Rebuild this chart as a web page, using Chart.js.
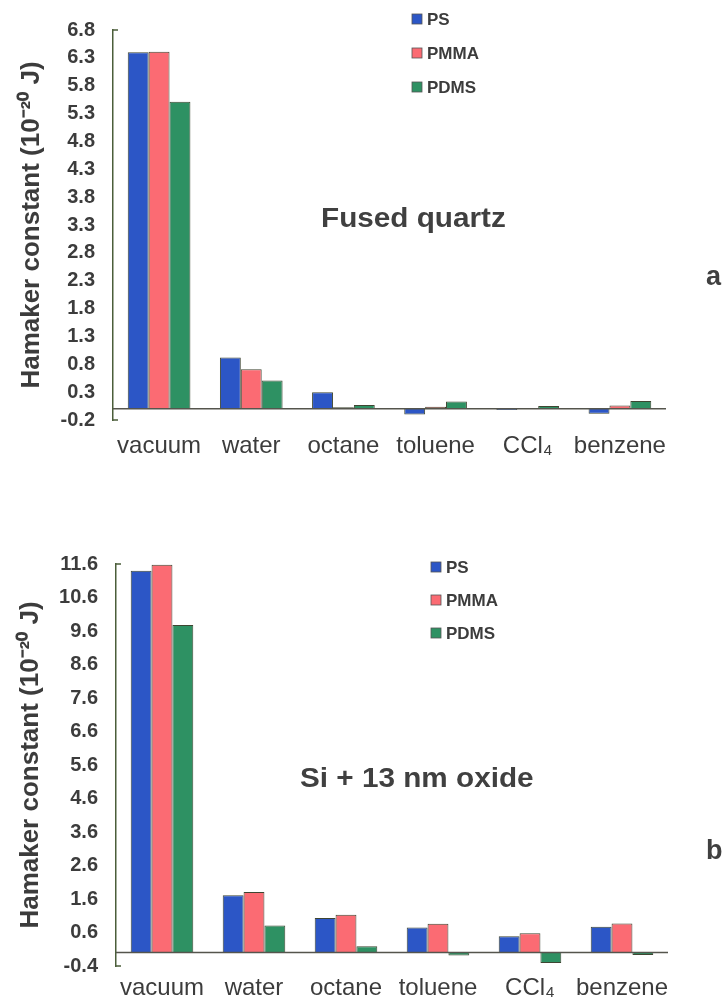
<!DOCTYPE html>
<html>
<head>
<meta charset="utf-8">
<script src="https://cdn.jsdelivr.net/npm/chart.js@4.4.1/dist/chart.umd.min.js"></script>
<style>
  html, body { margin: 0; padding: 0; background: #ffffff; }
  body { width: 724px; height: 1002px; position: relative; overflow: hidden; }
  canvas { position: absolute; left: 0; }
  #c1 { top: 0; }
  #c2 { top: 490px; }
</style>
</head>
<body>
<canvas id="c1" width="724" height="490"></canvas>
<canvas id="c2" width="724" height="512"></canvas>
<script>
// ---------- data ----------
const categories = ['vacuum', 'water', 'octane', 'toluene', 'CCl\u2084', 'benzene'];
const seriesNames = ['PS', 'PMMA', 'PDMS'];

// (a) Fused quartz
const quartzPS   = [6.40, 0.92, 0.30, -0.10, -0.02, -0.09];
const quartzPMMA = [6.41, 0.71, 0.03,  0.04,  0.01,  0.06];
const quartzPDMS = [5.51, 0.51, 0.07,  0.13,  0.05,  0.14];
const quartzTicks = [-0.2, 0.3, 0.8, 1.3, 1.8, 2.3, 2.8, 3.3, 3.8, 4.3, 4.8, 5.3, 5.8, 6.3, 6.8];

// (b) Si + 13 nm oxide
const oxidePS   = [11.40, 1.71, 1.03, 0.75, 0.49, 0.77];
const oxidePMMA = [11.58, 1.81, 1.13, 0.86, 0.58, 0.87];
const oxidePDMS = [9.78, 0.81, 0.19, -0.09, -0.31, -0.07];
const oxideTicks = [-0.4, 0.6, 1.6, 2.6, 3.6, 4.6, 5.6, 6.6, 7.6, 8.6, 9.6, 10.6, 11.6];

// ---------- styles ----------
const colors = ['#2c56c6', '#fb6b73', '#2e9163'];
const FONT = "'Liberation Sans', Arial, Helvetica, sans-serif";
const axisColor = '#4b5e3a';
const textColor = '#3c3c3c';
const yTitle = 'Hamaker constant (10\u207B\u00B2\u2070 J)';

const deco = {
  id: 'deco',
  afterDatasetsDraw(chart, args, o) {
    const { ctx, chartArea: ca, scales: { y } } = chart;
    ctx.save();
    const z = y.getPixelForValue(0);
    ctx.strokeStyle = '#55554d';
    ctx.lineWidth = 1.5;
    ctx.beginPath();
    ctx.moveTo(ca.left, z);
    ctx.lineTo(ca.right, z);
    ctx.stroke();
    ctx.strokeStyle = axisColor;
    ctx.beginPath();
    ctx.moveTo(ca.left, ca.top); ctx.lineTo(ca.left + 5, ca.top);
    ctx.moveTo(ca.left, ca.bottom); ctx.lineTo(ca.left + 5, ca.bottom);
    ctx.stroke();
    ctx.restore();
  },
  afterDraw(chart, args, o) {
    const { ctx } = chart;
    ctx.save();
    // legend
    ctx.font = 'bold 17px ' + FONT;
    ctx.textBaseline = 'middle';
    ctx.textAlign = 'left';
    chart.data.datasets.forEach((ds, i) => {
      const cy = o.legendY + i * o.legendGap;
      ctx.fillStyle = ds.backgroundColor;
      ctx.fillRect(o.legendX, cy - 5, 10, 10);
      ctx.strokeStyle = '#555';
      ctx.lineWidth = 0.8;
      ctx.strokeRect(o.legendX, cy - 5, 10, 10);
      ctx.fillStyle = textColor;
      ctx.fillText(ds.label, o.legendX + 15, cy + 1);
    });
    // annotations (slightly widened glyphs, like the original typeface)
    ctx.font = 'bold 27px ' + FONT;
    ctx.textBaseline = 'alphabetic';
    ctx.fillStyle = '#404040';
    ctx.save();
    ctx.translate(o.labelX, o.labelY);
    ctx.scale(1.1, 1);
    ctx.fillText(o.label, 0, 0);
    ctx.restore();
    ctx.fillText(o.letter, o.letterX, o.letterY);
    ctx.restore();
  }
};

function makeChart(id, ps, pmma, pdms, ticks, cfg) {
  return new Chart(document.getElementById(id), {
    type: 'bar',
    data: {
      labels: categories,
      datasets: [ps, pmma, pdms].map((d, i) => ({
        label: seriesNames[i],
        data: d,
        backgroundColor: colors[i],
        borderColor: '#3e4632',
        borderWidth: 1,
        categoryPercentage: 0.68,
        barPercentage: 1.0
      }))
    },
    options: {
      responsive: false,
      animation: false,
      devicePixelRatio: 1,
      layout: { padding: { left: 0, top: cfg.top, right: cfg.right, bottom: 0 } },
      plugins: {
        legend: { display: false },
        tooltip: { enabled: false },
        deco: cfg.deco
      },
      scales: {
        x: {
          grid: { display: false, drawTicks: false },
          border: { display: false },
          ticks: {
            color: textColor,
            font: { family: FONT, size: 24 },
            padding: cfg.xPad,
            maxRotation: 0,
            minRotation: 0,
            autoSkip: false
          },
          afterFit: (s) => { s.height = cfg.xHeight; }
        },
        y: {
          min: ticks[0],
          max: ticks[ticks.length - 1],
          grid: { display: false, drawTicks: false },
          border: { display: true, color: axisColor, width: 1.5 },
          afterBuildTicks: (s) => { s.ticks = ticks.map(v => ({ value: v })); },
          ticks: {
            color: textColor,
            font: { family: FONT, size: 20, weight: 'bold' },
            padding: 18,
            callback: (v) => Number(v).toFixed(1)
          },
          title: {
            display: true,
            text: yTitle,
            color: textColor,
            font: { family: FONT, size: 26, weight: 'bold' },
            padding: { top: cfg.titlePad, bottom: 0 }
          },
          afterFit: (s) => { s.width = cfg.left; }
        }
      }
    },
    plugins: [deco]
  });
}

makeChart('c1', quartzPS, quartzPMMA, quartzPDMS, quartzTicks, {
  top: 19, right: 58, left: 113, xHeight: 70, xPad: 12, titlePad: 16,
  deco: { legendX: 412, legendY: 19, legendGap: 34,
          label: 'Fused quartz', labelX: 321, labelY: 227,
          letter: 'a', letterX: 706, letterY: 285 }
});

makeChart('c2', oxidePS, oxidePMMA, oxidePDMS, oxideTicks, {
  top: 74, right: 56, left: 116, xHeight: 36, xPad: 8, titlePad: 15,
  deco: { legendX: 431, legendY: 77, legendGap: 33,
          label: 'Si + 13 nm oxide', labelX: 300, labelY: 297,
          letter: 'b', letterX: 706, letterY: 369 }
});
</script>
</body>
</html>
